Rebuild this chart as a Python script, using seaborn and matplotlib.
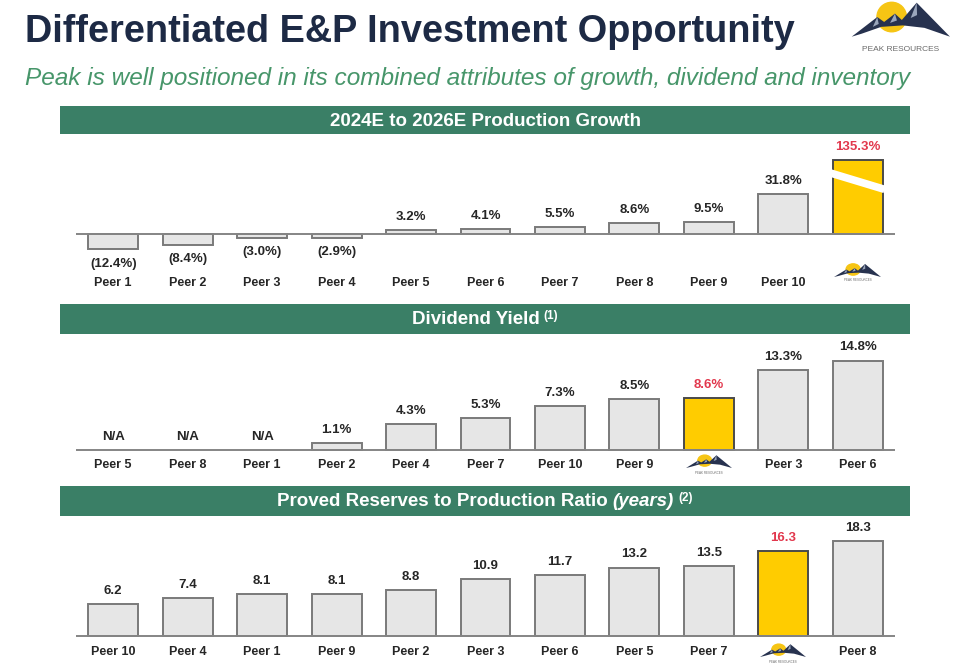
import numpy as np
import pandas as pd
import matplotlib
matplotlib.use("Agg")
import matplotlib.pyplot as plt
import seaborn as sns
from matplotlib.patches import Polygon, Circle, Rectangle
from matplotlib.transforms import Affine2D

# ---------------- data ----------------
growth_cats = ["Peer 1", "Peer 2", "Peer 3", "Peer 4", "Peer 5", "Peer 6",
               "Peer 7", "Peer 8", "Peer 9", "Peer 10", "Peak"]
growth_vals = [-12.4, -8.4, -3.0, -2.9, 3.2, 4.1, 5.5, 8.6, 9.5, 31.8, 135.3]
growth_labels = ["(12.4%)", "(8.4%)", "(3.0%)", "(2.9%)", "3.2%", "4.1%",
                 "5.5%", "8.6%", "9.5%", "31.8%", "135.3%"]

dividend_cats = ["Peer 5", "Peer 8", "Peer 1", "Peer 2", "Peer 4", "Peer 7",
                 "Peer 10", "Peer 9", "Peak", "Peer 3", "Peer 6"]
dividend_vals = [np.nan, np.nan, np.nan, 1.1, 4.3, 5.3, 7.3, 8.5, 8.6, 13.3, 14.8]
dividend_labels = ["N/A", "N/A", "N/A", "1.1%", "4.3%", "5.3%", "7.3%",
                   "8.5%", "8.6%", "13.3%", "14.8%"]

reserve_cats = ["Peer 10", "Peer 4", "Peer 1", "Peer 9", "Peer 2", "Peer 3",
                "Peer 6", "Peer 5", "Peer 7", "Peak", "Peer 8"]
reserve_vals = [6.2, 7.4, 8.1, 8.1, 8.8, 10.9, 11.7, 13.2, 13.5, 16.3, 18.3]
reserve_labels = ["6.2", "7.4", "8.1", "8.1", "8.8", "10.9", "11.7", "13.2",
                  "13.5", "16.3", "18.3"]

title = "Differentiated E&P Investment Opportunity"
subtitle = "Peak is well positioned in its combined attributes of growth, dividend and inventory"

# ---------------- style ----------------
sns.set_theme(style="white")
plt.rcParams["font.family"] = ["Liberation Sans", "DejaVu Sans"]

NAVY = "#1d2a45"
GREEN_TXT = "#47966a"
BANNER = "#3a7f66"
GRAY_FILL = "#e6e6e6"
GRAY_EDGE = "#7a7a7a"
PEAK_FILL = "#ffcc00"
PEAK_EDGE = "#4a4a4a"
RED = "#e2384d"
DARK = "#262626"

W, H = 960, 669
fig = plt.figure(figsize=(W / 100, H / 100), dpi=100)
fig.patch.set_facecolor("white")
renderer = fig.canvas.get_renderer()


def fx(x):
    return x / W


def fy(y):
    return 1 - y / H


def fit_text(x, y, s, width, **kw):
    t = fig.text(fx(x), fy(y), s, ha="left", va="center", **kw)
    w = t.get_window_extent(renderer).width
    t.set_fontsize(t.get_fontsize() * width / w)
    return t


def draw_logo(x0, ybase, width, text_size, text_dy, yscale=1.0):
    """Peak Resources mountain logo; x0/ybase = left base corner in px."""
    tr = Affine2D().scale(width / W, width * yscale / H).translate(fx(x0), fy(ybase)) + fig.transFigure
    fig.patches.append(Circle((0.407, 0.20), 0.15, transform=tr,
                              color="#f6c514", zorder=10))
    mountain = [(0.0, 0.0), (0.26, 0.20), (0.33, 0.15), (0.44, 0.235),
                (0.51, 0.17), (0.661, 0.346), (1.0, 0.0), (0.74, 0.09),
                (0.52, 0.115), (0.30, 0.10), (0.10, 0.03)]
    fig.patches.append(Polygon(mountain, closed=True, transform=tr,
                               facecolor="#27324f", edgecolor="none", zorder=11))
    hl1 = [(0.44, 0.235), (0.39, 0.14), (0.46, 0.165)]
    hl2 = [(0.661, 0.346), (0.60, 0.19), (0.665, 0.22)]
    hl3 = [(0.26, 0.20), (0.215, 0.10), (0.275, 0.13)]
    for hl in (hl1, hl2, hl3):
        fig.patches.append(Polygon(hl, closed=True, transform=tr,
                                   facecolor="#9aa6bc", edgecolor="none", zorder=12))
    fig.text(fx(x0 + width / 2), fy(ybase + text_dy), "PEAK RESOURCES",
             ha="center", va="center", fontsize=text_size, color="#6a6a6a", zorder=12)


def banner(top, bottom, pieces):
    fig.patches.append(Rectangle((fx(60), fy(bottom)), 850 / W, (bottom - top) / H,
                                 transform=fig.transFigure, facecolor=BANNER,
                                 edgecolor="none", zorder=0))
    yb = (top + bottom) / 2 + 5.5
    texts, widths = [], []
    for s, size, style, dy, gap in pieces:
        t = fig.text(0, fy(yb + dy), s, ha="left", va="baseline", color="white",
                     fontsize=size, fontweight="bold", fontstyle=style)
        texts.append((t, gap, dy))
        widths.append(t.get_window_extent(renderer).width)
    total = sum(widths) + sum(g for _, g, _ in texts)
    x = 485 - total / 2
    for (t, gap, dy), w in zip(texts, widths):
        t.set_x(fx(x))
        x += w + gap


def panel(box, ylim, cats, vals, labels, tick_pad, cap=None, neg_off=9.4):
    left, top, right, bottom = box
    ax = fig.add_axes([fx(left), fy(bottom), (right - left) / W, (bottom - top) / H])
    df = pd.DataFrame({"cat": cats, "val": vals})
    df["plot"] = df["val"] if cap is None else df["val"].clip(upper=cap)
    palette = {c: (PEAK_FILL if c == "Peak" else GRAY_FILL) for c in cats}
    sns.barplot(data=df, x="cat", y="plot", hue="cat", order=cats, hue_order=cats,
                palette=palette, legend=False, ax=ax, width=0.67, saturation=1,
                edgecolor=GRAY_EDGE, linewidth=1.4, zorder=2)
    peak_i = cats.index("Peak")
    for p in ax.patches:
        i = int(round(p.get_x() + p.get_width() / 2))
        if i == peak_i:
            p.set_edgecolor(PEAK_EDGE)
    ax.axhline(0, color="#858585", lw=1.4, zorder=3)
    ax.set_xlim(-0.5, len(cats) - 0.5)
    ax.set_ylim(*ylim)
    ax.set_yticks([])
    ax.set_xticks(range(len(cats)))
    ax.set_xticklabels(["" if c == "Peak" else c for c in cats],
                       fontsize=9, fontweight="bold", color=DARK)
    ax.tick_params(axis="x", length=0, pad=tick_pad)
    ax.set_xlabel("")
    ax.set_ylabel("")
    for s in ax.spines.values():
        s.set_visible(False)
    ax.patch.set_alpha(0)
    for i, (v, pv, lab) in enumerate(zip(df["val"], df["plot"], labels)):
        col = RED if cats[i] == "Peak" else DARK
        if np.isnan(v):
            y, off = 0, 9.4
        elif v < 0:
            y, off = v, -neg_off
        else:
            y, off = pv, 9.4
        ax.annotate(lab, (i, y), xytext=(0, off), textcoords="offset points",
                    ha="center", va="center", fontsize=9.5, fontweight="bold",
                    color=col, zorder=6)
    return ax, peak_i


# ---------------- header ----------------
fit_text(25, 32, title, 770, fontsize=26, fontweight="bold", color=NAVY)
fit_text(25, 78, subtitle, 887, fontsize=16, fontstyle="italic", color=GREEN_TXT)
draw_logo(851.7, 36.7, 98.3, 6.0, 13)

# ---------------- panel 1 ----------------
banner(106, 134, [("2024E to 2026E Production Growth", 13.5, "normal", 0, 0)])
cap = 59
ax1, pk = panel((76, 140, 895, 250), (-12.8, 75.2), growth_cats, growth_vals,
                growth_labels, tick_pad=19.5, cap=cap, neg_off=10.5)
ax1.plot([pk - 0.36, pk + 0.36], [cap * 0.825, cap * 0.605], color="white",
         lw=5.5, solid_capstyle="butt", zorder=5)
draw_logo(834, 277, 47, 2.2, 3, yscale=0.8)

# ---------------- panel 2 ----------------
banner(304, 334, [("Dividend Yield", 13.5, "normal", 0, 3),
                  ("(1)", 8.5, "normal", -5.5, 0)])
panel((76, 340, 895, 455), (-0.83, 18.2), dividend_cats, dividend_vals,
      dividend_labels, tick_pad=3)
draw_logo(686, 468, 46, 2.2, 5, yscale=0.8)

# ---------------- panel 3 ----------------
banner(486, 516, [("Proved Reserves to Production Ratio", 13.5, "normal", 0, 4),
                  ("(years)", 13.5, "italic", 0, 5),
                  ("(2)", 8.5, "normal", -5.5, 0)])
panel((76, 525, 895, 640), (-0.77, 21.4), reserve_cats, reserve_vals,
      reserve_labels, tick_pad=4)
draw_logo(760, 657, 46, 2.2, 5, yscale=0.8)

fig.savefig("out.png", dpi=100, facecolor="white")
